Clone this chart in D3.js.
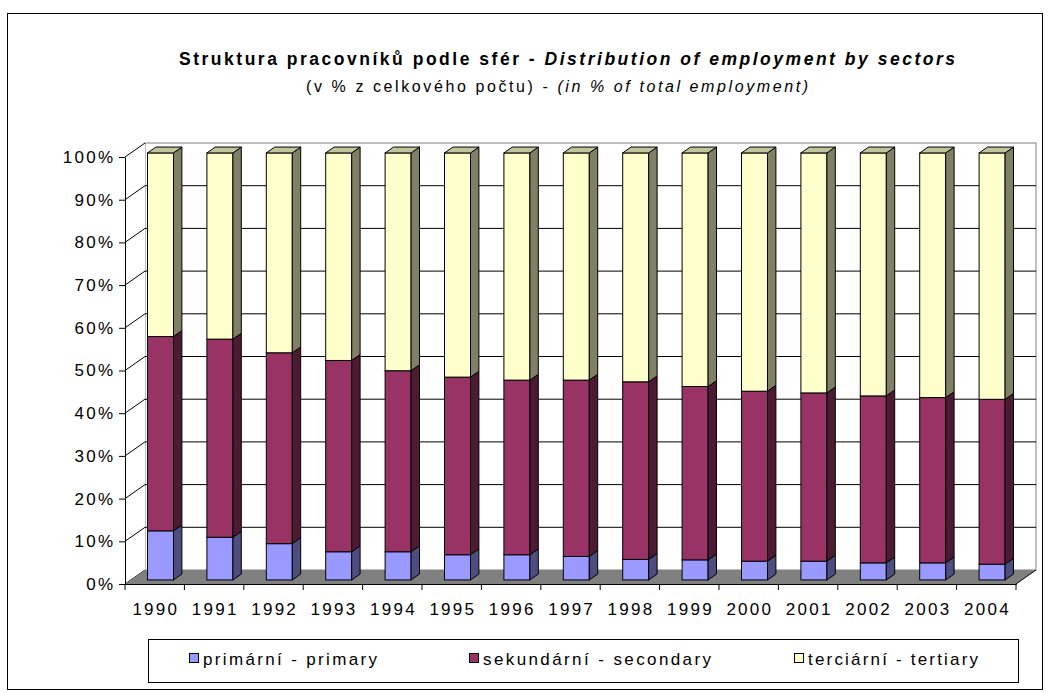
<!DOCTYPE html>
<html><head><meta charset="utf-8">
<script src="https://cdn.jsdelivr.net/npm/d3@7"></script>
<style>
body{margin:0;background:#fff}
svg{display:block}
text{font-family:"Liberation Sans Narrow","Liberation Sans",Arial,sans-serif;white-space:pre}
</style>
</head><body>
<svg id="c" width="1050" height="693"></svg>
<script>
// ---- data ----
const years = ["1990","1991","1992","1993","1994","1995","1996","1997","1998","1999","2000","2001","2002","2003","2004"];
const primary   = [11.5,10.0,8.5,6.6,6.6,5.9,5.9,5.5,4.8,4.7,4.4,4.4,4.0,4.0,3.7];
const secondary = [45.5,46.4,44.7,44.8,42.4,41.6,40.9,41.3,41.6,40.6,39.8,39.4,39.1,38.7,38.6];
const tertiary  = [43.0,43.6,46.8,48.6,51.0,52.5,53.2,53.2,53.6,54.7,55.8,56.2,56.9,57.3,57.7];
const seriesNames = ["primární - primary","sekundární - secondary","terciární - tertiary"];
const yTickValues = [0,10,20,30,40,50,60,70,80,90,100];
const yTickLabels = ["0%","10%","20%","30%","40%","50%","60%","70%","80%","90%","100%"];
const titleBold = "Struktura pracovníků podle sfér - ";
const titleItalic = "Distribution of employment by sectors";
const subNormal = "(v % z celkového počtu) - ";
const subItalic = "(in % of total employment)";

// ---- styles ----
const colors = {
  front: ["#9999FF","#993366","#FFFFCC"],
  side:  ["#4D4D80","#4D1A33","#808066"],
  top:   ["#7A7ACC","#7A2952","#C4C49C"]
};
const svg = d3.select("#c");
const FS = 17;

function fit(sel, target){
  const n = sel.node();
  sel.attr("letter-spacing",0);
  const w = n.getComputedTextLength();
  const c = n.textContent.length;
  const s = (target-w)/(c-1);
  sel.attr("letter-spacing",s);
  return s;
}
// measure a spacing for axis labels from "1990" ≈ 44.6px
const probe = svg.append("text").attr("font-size",FS).text(years[0]);
const LS = fit(probe, 44.6);
probe.remove();

// ---- geometry ----
const X0 = 125, X1 = 1016, YB = 584, YT = 157;
const DX = 20, DY = -14;
const f0 = 0.29, f1 = 0.71;
const barW = 26;

const x = d3.scaleBand().domain(years).range([X0, X1]).padding(0);
const y = d3.scaleLinear().domain([0,100]).range([YB, YT]);
const P = (xx, v, f) => [xx + f*DX, y(v) + f*DY];

svg.append("rect").attr("x",7.5).attr("y",13.5).attr("width",1035).attr("height",676)
  .attr("fill","#fff").attr("stroke","#000").attr("stroke-width",1);

svg.append("rect").attr("x",X0+DX).attr("y",y(100)+DY).attr("width",X1-X0).attr("height",y(0)-y(100))
  .attr("fill","#fff").attr("stroke","#808080");
svg.append("polygon").attr("points",[[X0,y(0)],[X0,y(100)],[X0+DX,y(100)+DY],[X0+DX,y(0)+DY]].join(" "))
  .attr("fill","#fff").attr("stroke","none");
const grid = svg.append("g");
yTickValues.forEach(v=>{
  if(v>0 && v<100) grid.append("line").attr("x1",X0+DX).attr("x2",X1+DX).attr("y1",y(v)+DY).attr("y2",y(v)+DY)
     .attr("stroke","#000").attr("stroke-width",1);
  grid.append("line").attr("x1",X0).attr("y1",y(v)).attr("x2",X0+DX).attr("y2",y(v)+DY)
     .attr("stroke","#000").attr("stroke-width",1);
});
svg.append("polygon").attr("points",[[X0,y(0)],[X1,y(0)],[X1+DX,y(0)+DY],[X0+DX,y(0)+DY]].join(" "))
  .attr("fill","#808080").attr("stroke","none");
svg.append("line").attr("x1",X1).attr("y1",y(0)).attr("x2",X1+DX).attr("y2",y(0)+DY).attr("stroke","#000");

const table = years.map((yr,i)=>({year:yr, p:primary[i], s:secondary[i], t:tertiary[i]}));
const stack = d3.stack().keys(["p","s","t"])(table);
const bars = svg.append("g");
table.forEach((d,i)=>{
  const xl = x(d.year) + (x.bandwidth()-barW)/2, xr = xl + barW;
  stack.forEach((layer,k)=>{
    const v0 = layer[i][0], v1 = layer[i][1];
    const a = P(xl,v1,f0), b = P(xr,v0,f0);
    bars.append("rect").attr("x",a[0]).attr("y",a[1]).attr("width",b[0]-a[0]).attr("height",b[1]-a[1])
      .attr("fill",colors.front[k]).attr("stroke","#000").attr("stroke-width",1);
    bars.append("polygon").attr("points",[P(xr,v0,f0),P(xr,v1,f0),P(xr,v1,f1),P(xr,v0,f1)].join(" "))
      .attr("fill",colors.side[k]).attr("stroke","#000").attr("stroke-width",1).attr("stroke-linejoin","round");
    if(k===stack.length-1){
      bars.append("polygon").attr("points",[P(xl,v1,f0),P(xr,v1,f0),P(xr,v1,f1),P(xl,v1,f1)].join(" "))
        .attr("fill",colors.top[k]).attr("stroke","#000").attr("stroke-width",1).attr("stroke-linejoin","round");
    }
  });
});

const yAxis = d3.axisLeft(y).tickValues(yTickValues).tickFormat((d,i)=>yTickLabels[i]).tickSize(6).tickPadding(6).tickSizeOuter(0);
const gy = svg.append("g").attr("transform",`translate(${X0},0)`).call(yAxis);
gy.select(".domain").attr("stroke","#000");
gy.selectAll("line").attr("stroke","#000");
gy.selectAll("text").attr("font-size",FS).attr("letter-spacing",LS).attr("dx",LS).attr("fill","#000")
  .attr("font-family",null);

const xAxis = d3.axisBottom(x).tickSize(0).tickPadding(18.5);
const gx = svg.append("g").attr("transform",`translate(0,${YB})`).call(xAxis);
gx.select(".domain").attr("stroke","#000");
gx.selectAll("text").attr("font-size",FS).attr("letter-spacing",LS).attr("dx",LS/2).attr("fill","#000")
  .attr("font-family",null);
gx.attr("font-family",null); gy.attr("font-family",null);
const bounds = years.map(yr=>x(yr)).concat([x(years[years.length-1])+x.bandwidth()]);
gx.selectAll(".bt").data(bounds).join("line").attr("class","bt")
  .attr("x1",d=>d).attr("x2",d=>d).attr("y1",0).attr("y2",6).attr("stroke","#000");

const t1 = svg.append("text").attr("x",179).attr("y",65).attr("font-size",17.5).attr("font-weight","bold").attr("fill","#000");
t1.append("tspan").text(titleBold);
t1.append("tspan").attr("font-style","italic").text(titleItalic);
fit(t1, 776);
const t2 = svg.append("text").attr("x",306).attr("y",91.5).attr("font-size",16).attr("fill","#000");
t2.append("tspan").text(subNormal);
t2.append("tspan").attr("font-style","italic").text(subItalic);
fit(t2, 502);

svg.append("rect").attr("x",148.5).attr("y",639.5).attr("width",870).attr("height",43)
  .attr("fill","#fff").attr("stroke","#000");
const legX = [203,483,808], legW = [174,228,170];
seriesNames.forEach((nm,k)=>{
  svg.append("rect").attr("x",legX[k]-13.5).attr("y",653.5).attr("width",9).attr("height",9)
    .attr("fill",colors.front[k]).attr("stroke","#000");
  const t = svg.append("text").attr("x",legX[k]).attr("y",664.5).attr("font-size",FS)
    .attr("fill","#000").text(nm);
  fit(t, legW[k]);
});
</script>
</body></html>
